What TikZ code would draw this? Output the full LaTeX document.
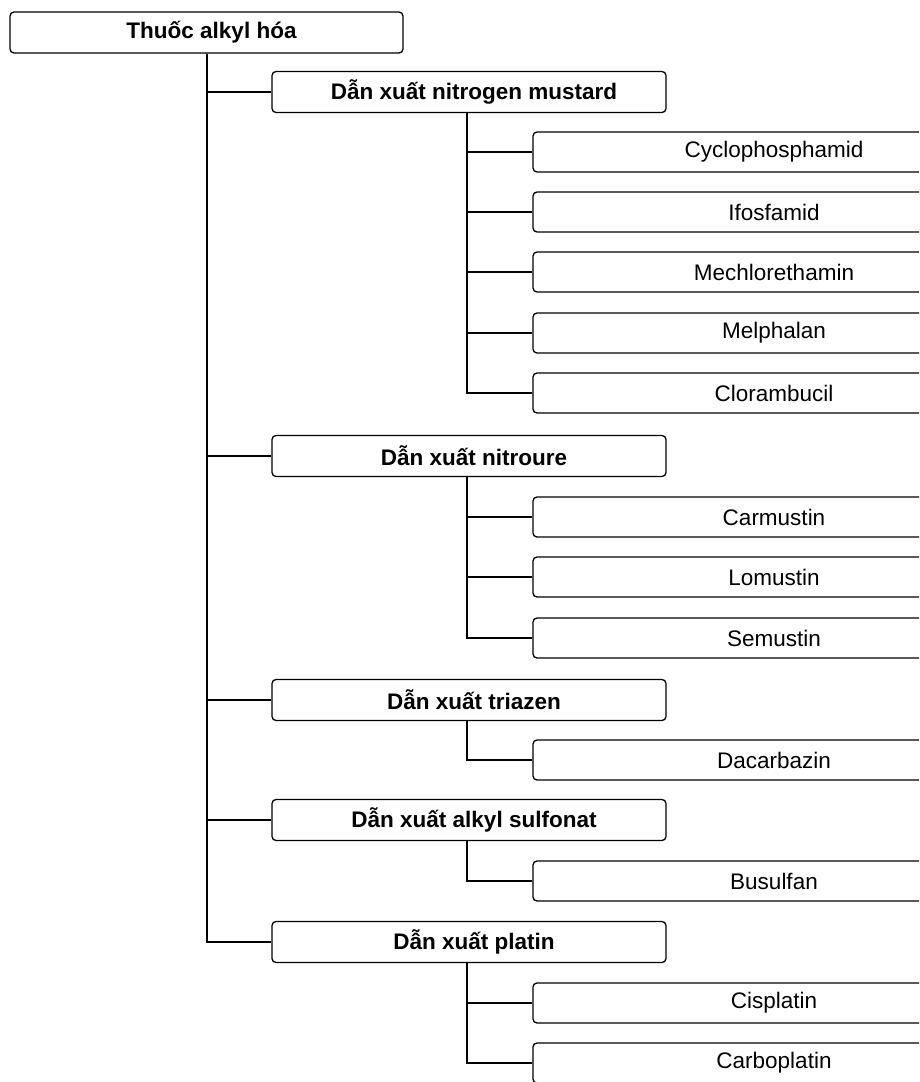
\documentclass[tikz,border=0pt]{standalone}
\usepackage{fontspec}
\setmainfont{Liberation Sans}
\begin{document}
\begin{tikzpicture}[x=1pt,y=-1pt,
  headbox/.style={draw=black, line width=1.3pt, rounded corners=4pt, inner sep=0pt,
    minimum height=41pt, font=\fontsize{22.5}{26}\selectfont\bfseries},
  drugbox/.style={draw=black, line width=1.3pt, rounded corners=4pt, inner sep=0pt,
    minimum height=40pt, minimum width=482pt, font=\fontsize{22.5}{26}\selectfont},
  conn/.style={draw=black, line width=2.4pt}]
\useasboundingbox (0,0) rectangle (919,1082);
\clip (0,0) rectangle (919,1082);
\fill[white] (0,0) rectangle (919,1082);

\node[headbox, minimum width=393pt] (root) at (206.5,32.5) {\hspace*{10pt}Thuốc alkyl hóa};

\node[headbox, minimum width=394pt] (nm) at (469,92)  {\hspace*{10pt}Dẫn xuất nitrogen mustard};
\node[headbox, minimum width=394pt] (nr) at (469,456) {\hspace*{10pt}Dẫn xuất nitroure};
\node[headbox, minimum width=394pt] (tz) at (469,700) {\hspace*{10pt}Dẫn xuất triazen};
\node[headbox, minimum width=394pt] (as) at (469,820) {\hspace*{10pt}Dẫn xuất alkyl sulfonat};
\node[headbox, minimum width=394pt] (pt) at (469,942) {\hspace*{10pt}Dẫn xuất platin};

\node[drugbox] (c1) at (774,152)  {Cyclophosphamid};
\node[drugbox] (c2) at (774,212)  {Ifosfamid};
\node[drugbox] (c3) at (774,272)  {Mechlorethamin};
\node[drugbox] (c4) at (774,333)  {Melphalan};
\node[drugbox] (c5) at (774,393)  {Clorambucil};
\node[drugbox] (n1) at (774,517)  {Carmustin};
\node[drugbox] (n2) at (774,577)  {Lomustin};
\node[drugbox] (n3) at (774,638)  {Semustin};
\node[drugbox] (t1) at (774,760)  {Dacarbazin};
\node[drugbox] (a1) at (774,881)  {Busulfan};
\node[drugbox] (p1) at (774,1003) {Cisplatin};
\node[drugbox] (p2) at (774,1063) {Carboplatin};

\coordinate (trunk) at (207,0);
\coordinate (sub) at (467,0);

% main trunk
\draw[conn] (root.south -| trunk) |- (pt.west);
\foreach \n in {nm,nr,tz,as}{\draw[conn] (\n.west -| trunk) -- (\n.west);}

% nitrogen mustard
\draw[conn] (nm.south -| sub) |- (c5.west);
\foreach \n in {c1,c2,c3,c4}{\draw[conn] (\n.west -| sub) -- (\n.west);}
% nitroure
\draw[conn] (nr.south -| sub) |- (n3.west);
\foreach \n in {n1,n2}{\draw[conn] (\n.west -| sub) -- (\n.west);}
% triazen
\draw[conn] (tz.south -| sub) |- (t1.west);
% alkyl sulfonat
\draw[conn] (as.south -| sub) |- (a1.west);
% platin
\draw[conn] (pt.south -| sub) |- (p2.west);
\draw[conn] (p1.west -| sub) -- (p1.west);
\end{tikzpicture}
\end{document}
